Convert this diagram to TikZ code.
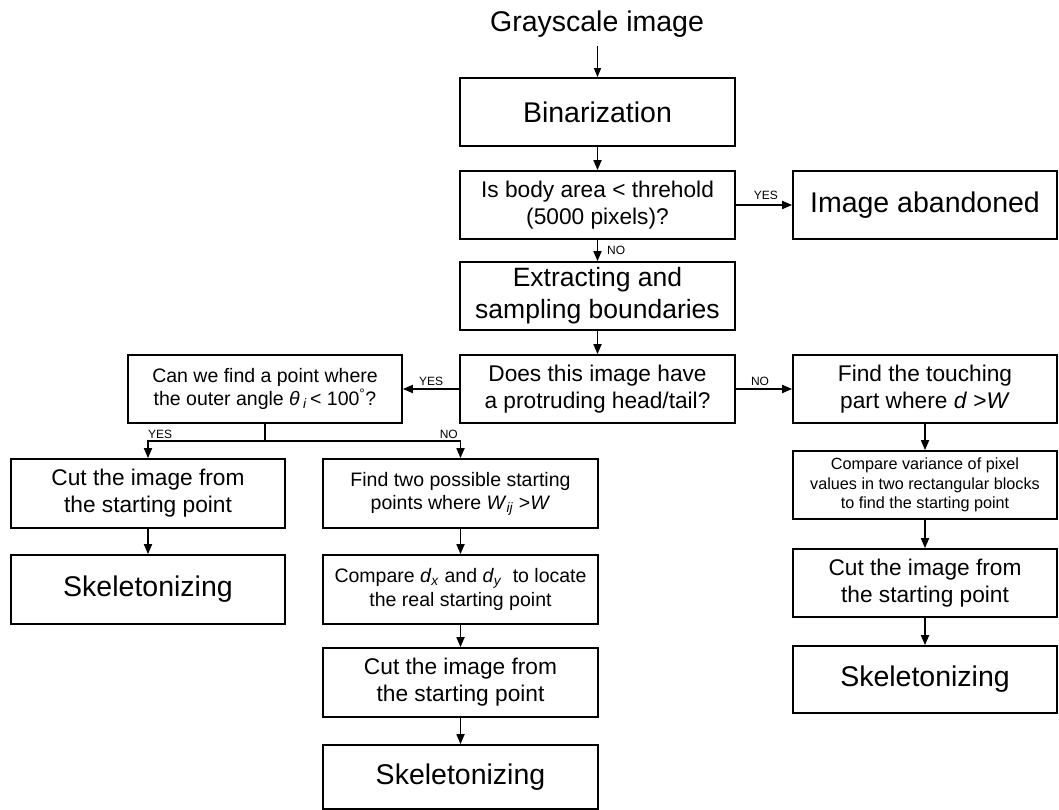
\documentclass[tikz,border=0pt]{standalone}
\usepackage{fontspec}
\setmainfont{Liberation Sans}
\usetikzlibrary{arrows.meta}
\begin{document}
\begin{tikzpicture}[x=1pt,y=-1pt,
  box/.style={draw, line width=1.7pt, align=center, inner sep=0pt, anchor=center},
  arr/.style={line width=1.7pt, -{Triangle[length=10pt,width=8pt]}},
  conn/.style={line width=1.7pt},
  fbig/.style={font=\fontsize{28.5}{32}\selectfont},
  fmed/.style={font=\fontsize{22.7}{27}\selectfont},
  fsm/.style={font=\fontsize{19.5}{23}\selectfont},
  fxs/.style={font=\fontsize{16.2}{19.7}\selectfont},
  lab/.style={font=\fontsize{12}{14}\selectfont, inner sep=0pt}
]
\fill[white] (0,0) rectangle (1059,810);
\useasboundingbox (0,0) rectangle (1059,810);

% top column
\node[fbig, inner sep=0pt] (gray) at (597,24) {Grayscale image};
\node[box, fbig, minimum width=275pt, minimum height=68pt] (bin) at (597.5,112) {Binarization};
\node[box, fmed, minimum width=275pt, minimum height=68pt] (body) at (597.5,205) {Is body area < threhold\\(5000 pixels)?};
\node[box, fbig, minimum width=264pt, minimum height=68pt] (aband) at (925,205) {Image abandoned};
\node[box, font=\fontsize{26.5}{32}\selectfont, minimum width=275pt, minimum height=68pt] (extr) at (597.5,296) {Extracting and\\sampling boundaries};
\node[box, fmed, minimum width=275pt, minimum height=68pt] (does) at (597.5,389) {Does this image have\\a protruding head/tail?};
\node[box, fsm, minimum width=274pt, minimum height=68pt] (can) at (265,389) {Can we find a point where\\the outer angle \textit{θ}\,\textsubscript{\textit{i}}\,< 100\textsuperscript{°}?};
\node[box, fmed, minimum width=264pt, minimum height=68pt] (touch) at (925,389) {Find the touching\\part where \textit{d} >\textit{W}};

% left column
\node[box, fmed, minimum width=274pt, minimum height=69pt] (cutl) at (148,493.5) {Cut the image from\\the starting point};
\node[box, fbig, minimum width=274pt, minimum height=69pt] (skell) at (148,589.5) {Skeletonizing};

% middle column
\node[box, fsm, minimum width=275pt, minimum height=69pt] (find2) at (460.5,493.5) {Find two possible starting\\points where \textit{W}\textsubscript{\textit{ij}} >\textit{W}};
\node[box, font=\fontsize{19.5}{24}\selectfont, minimum width=275pt, minimum height=69pt] (cmpd) at (460.5,589.5) {Compare \textit{d}\textsubscript{\textit{x}} and \textit{d}\textsubscript{\textit{y}}\ \ to locate\\the real starting point};
\node[box, fmed, minimum width=275pt, minimum height=69pt] (cutm) at (460.5,682.5) {Cut the image from\\the starting point};
\node[box, fbig, minimum width=275pt, minimum height=64pt] (skelm) at (460.5,777) {Skeletonizing};

% right column
\node[box, fxs, minimum width=264pt, minimum height=68pt] (cmpv) at (925,485) {Compare variance of pixel\\values in two rectangular blocks\\to find the starting point};
\node[box, fmed, minimum width=264pt, minimum height=68pt] (cutr) at (925,583) {Cut the image from\\the starting point};
\node[box, fbig, minimum width=264pt, minimum height=67pt] (skelr) at (925,679.5) {Skeletonizing};

% connectors
\draw[line width=1.1pt, -{Triangle[length=9pt,width=7pt]}] (597.5,46) -- (bin.north);
\draw[arr] (bin) -- (body);
\draw[arr] (body) -- (aband);
\node[lab, anchor=south east] (ly1) at (778,200) {YES};
\draw[arr] (body) -- (extr);
\node[lab, anchor=west] (ln1) at (607,250) {NO};
\draw[arr] (extr) -- (does);
\draw[arr] (does) -- (can);
\node[lab, anchor=south] (ly2) at (431,386) {YES};
\draw[arr] (does) -- (touch);
\node[lab, anchor=south] (ln2) at (760,386) {NO};

\coordinate (sp) at (265,441);
\draw[conn] (can.south) -- (sp);
\draw[arr] (sp) -| (cutl.north);
\draw[arr] (sp) -| (find2.north);
\node[lab, anchor=south west] (ly3) at (148,439) {YES};
\node[lab, anchor=south east] (ln3) at (458,439) {NO};

\draw[arr] (cutl) -- (skell);
\draw[arr] (find2) -- (cmpd);
\draw[arr] (cmpd) -- (cutm);
\draw[arr] (cutm) -- (skelm);
\draw[arr] (touch) -- (cmpv);
\draw[arr] (cmpv) -- (cutr);
\draw[arr] (cutr) -- (skelr);
\end{tikzpicture}
\end{document}
